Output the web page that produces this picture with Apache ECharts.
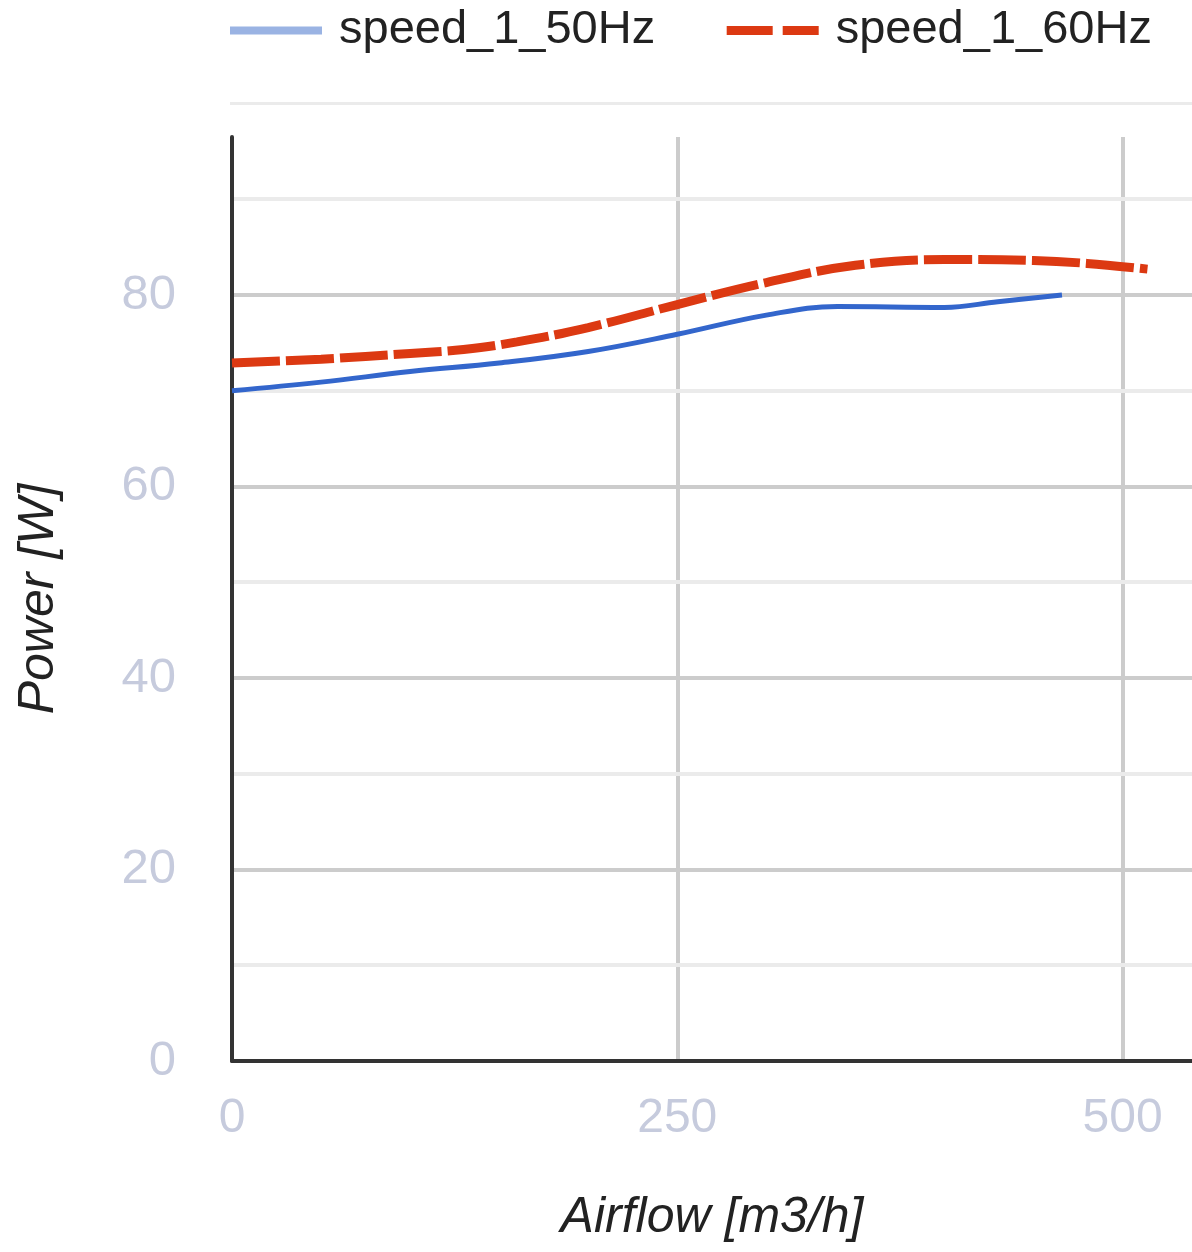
<!DOCTYPE html>
<html>
<head>
<meta charset="utf-8">
<script src="https://cdn.jsdelivr.net/npm/echarts@6/dist/echarts.min.js"></script>
<style>
html,body{margin:0;padding:0;background:#fff;}
#chart{width:1192px;height:1252px;}
</style>
</head>
<body>
<div id="chart"></div>
<script>
const seriesNames = ['speed_1_50Hz', 'speed_1_60Hz'];
const speed50 = [[0,70.0],[50,70.9],[100,72.0],[150,72.9],[200,74.1],[250,75.9],[300,77.9],[340,78.8],[400,78.7],[430,79.3],[466,80.0]];
const speed60 = [[0,72.9],[50,73.3],[100,73.9],[130,74.3],[160,75.1],[200,76.6],[250,79.0],[300,81.3],[350,83.1],[400,83.7],[450,83.6],[480,83.3],[514,82.7]];
const xTicks = [0, 250, 500];
const yTicks = [0, 20, 40, 60, 80];

const FONT = 'Liberation Sans';
const chart = echarts.init(document.getElementById('chart'));
chart.setOption({
  animation: false,
  backgroundColor: '#fff',
  graphic: [{
    type: 'rect', left: 230, top: 102, shape: {width: 962, height: 3},
    style: {fill: '#ebebeb'}, silent: true
  }],
  legend: {
    show: true, orient: 'horizontal', padding: 0,
    left: 226, top: 7, itemWidth: 92, itemHeight: 14, itemGap: 67,
    textStyle: {fontFamily: FONT, fontSize: 47, color: '#222', padding: [0, 0, 0, 12]},
    data: [
      {name: seriesNames[0], itemStyle: {color: 'rgba(0,0,0,0)', borderColor: 'rgba(0,0,0,0)', borderWidth: 0},
        lineStyle: {color: '#9ab3e3', width: 8, type: 'solid', cap: 'butt'}},
      {name: seriesNames[1], itemStyle: {color: 'rgba(0,0,0,0)', borderColor: 'rgba(0,0,0,0)', borderWidth: 0},
        lineStyle: {color: '#dc3912', width: 9, type: [46, 10], cap: 'butt'}}
    ]
  },
  grid: {left: 232, right: 0, top: 137, bottom: 191, containLabel: false},
  xAxis: {
    type: 'value', min: 0, max: 539, interval: 250,
    name: 'Airflow [m3/h]', nameLocation: 'middle', nameGap: 132,
    nameTextStyle: {fontFamily: FONT, fontSize: 50, fontStyle: 'italic', color: '#222'},
    axisLine: {show: true, onZero: false, lineStyle: {color: '#333', width: 4}},
    axisTick: {show: false},
    axisLabel: {fontFamily: FONT, fontSize: 48, color: '#c6cbdd', margin: 34, showMaxLabel: false,
      formatter: v => xTicks.includes(v) ? String(v) : ''},
    splitLine: {show: true, showMinLine: false, showMaxLine: false, lineStyle: {color: '#cccccc', width: 4}}
  },
  yAxis: [{
    type: 'value', min: 0, max: 96.5, interval: 20, z: 2,
    name: 'Power [W]', nameLocation: 'middle', nameGap: 168,
    nameTextStyle: {fontFamily: FONT, fontSize: 50, fontStyle: 'italic', color: '#222'},
    axisLine: {show: true, onZero: false, lineStyle: {color: '#333', width: 4}},
    axisTick: {show: false},
    axisLabel: {fontFamily: FONT, fontSize: 49, color: '#c6cbdd', margin: 56, showMaxLabel: false,
      formatter: v => yTicks.includes(v) ? String(v) : ''},
    splitLine: {show: true, showMinLine: false, showMaxLine: false, lineStyle: {color: '#cccccc', width: 4}}
  }, {
    type: 'value', min: 0, max: 96.5, interval: 10, z: 1, position: 'left',
    axisLine: {show: false}, axisTick: {show: false}, axisLabel: {show: false},
    splitLine: {show: true, showMinLine: false, showMaxLine: false, lineStyle: {color: '#ebebeb', width: 4}}
  }],
  series: [{
    name: seriesNames[0], type: 'line', data: speed50, smooth: 0.4, symbol: 'none', z: 5,
    lineStyle: {color: '#3366cc', width: 5}, itemStyle: {color: '#3366cc'}
  }, {
    name: seriesNames[1], type: 'line', data: speed60, smooth: 0.4, symbol: 'none', z: 6,
    lineStyle: {color: '#dc3912', width: 9, type: [48, 6]}, itemStyle: {color: '#dc3912'}
  }]
});
</script>
</body>
</html>
